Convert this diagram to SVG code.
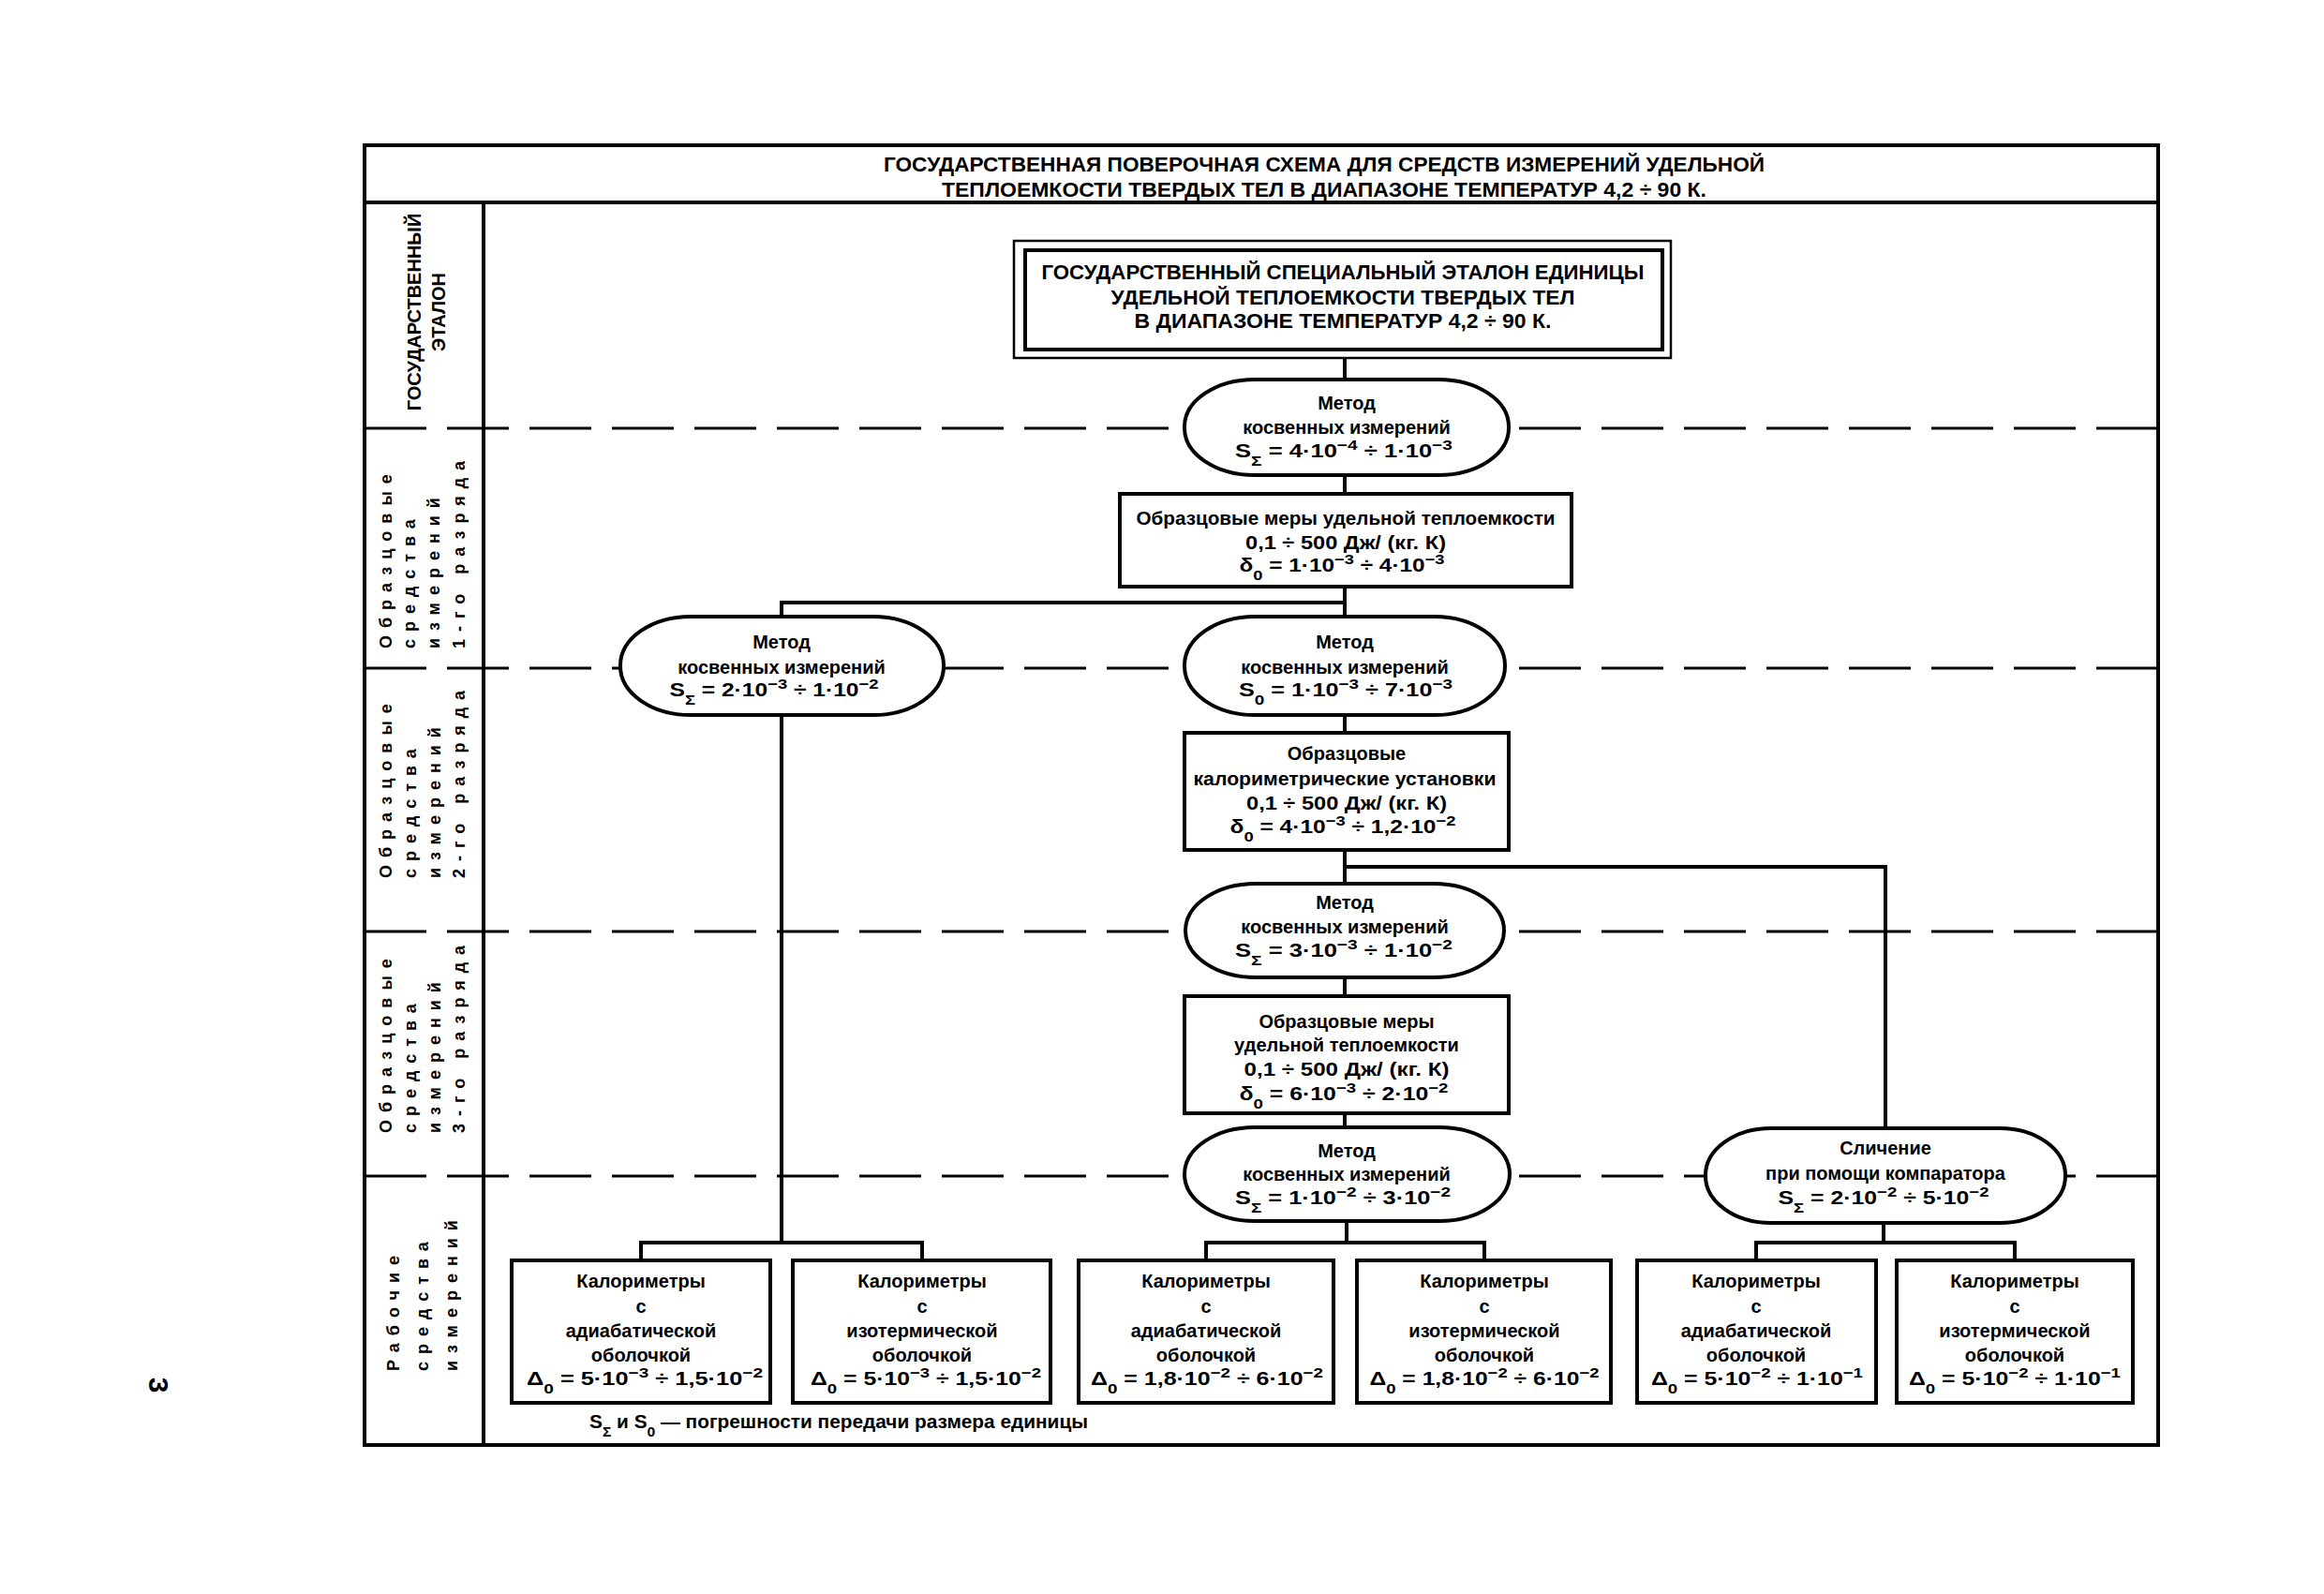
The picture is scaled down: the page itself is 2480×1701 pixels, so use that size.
<svg xmlns="http://www.w3.org/2000/svg" width="2480" height="1701" viewBox="0 0 2480 1701">
<style>
.frame{fill:none;stroke:#000;stroke-width:4}
.dash{stroke:#000;stroke-width:3;stroke-dasharray:66 22;fill:none}
.box{fill:#fff;stroke:#000;stroke-width:4}
.thin{fill:#fff;stroke:#000;stroke-width:2.5}
.conn{fill:none;stroke:#000;stroke-width:4}
.t{font-family:"Liberation Sans",Arial,sans-serif;font-weight:bold;font-size:20px;text-anchor:middle;fill:#000}
.h{font-family:"Liberation Sans",Arial,sans-serif;font-weight:bold;font-size:22px;text-anchor:middle;fill:#000}
.lab{font-family:"Liberation Sans",Arial,sans-serif;font-weight:bold;font-size:18px;letter-spacing:8px;fill:#000}
.labc{font-family:"Liberation Sans",Arial,sans-serif;font-weight:bold;font-size:20px;text-anchor:middle;fill:#000}
.sp{font-size:15px;baseline-shift:super}
.sb{font-size:15px;baseline-shift:sub}
</style>
<rect width="2480" height="1701" fill="#fff"/>

<!-- frame -->
<g id="frame">
<rect class="frame" x="389" y="155" width="1914" height="1387"/>
<line class="frame" x1="389" y1="216" x2="2303" y2="216"/>
<line class="frame" x1="516" y1="216" x2="516" y2="1542"/>
<text class="h" x="1413" y="183" textLength="940" lengthAdjust="spacingAndGlyphs">ГОСУДАРСТВЕННАЯ ПОВЕРОЧНАЯ СХЕМА ДЛЯ СРЕДСТВ ИЗМЕРЕНИЙ УДЕЛЬНОЙ</text>
<text class="h" x="1413" y="210" textLength="816" lengthAdjust="spacingAndGlyphs">ТЕПЛОЕМКОСТИ ТВЕРДЫХ ТЕЛ В ДИАПАЗОНЕ ТЕМПЕРАТУР 4,2 ÷ 90 К.</text>
</g>

<!-- row separators -->
<g id="rows">
<line class="dash" x1="389" y1="457" x2="2303" y2="457"/>
<line class="dash" x1="389" y1="713" x2="2303" y2="713"/>
<line class="dash" x1="389" y1="994" x2="2303" y2="994"/>
<line class="dash" x1="389" y1="1255" x2="2303" y2="1255"/>
</g>

<!-- row labels -->
<g id="row-labels">
<text class="labc" transform="rotate(-90 449 333)" x="449" y="333">ГОСУДАРСТВЕННЫЙ</text>
<text class="labc" transform="rotate(-90 475 333)" x="475" y="333">ЭТАЛОН</text>

<text class="lab" transform="rotate(-90 418 692)" x="418" y="692">Образцовые</text>
<text class="lab" transform="rotate(-90 443 692)" x="443" y="692">средства</text>
<text class="lab" transform="rotate(-90 469 692)" x="469" y="692">измерений</text>
<text class="lab" transform="rotate(-90 496 692)" x="496" y="692">1-го разряда</text>

<text class="lab" transform="rotate(-90 418 937)" x="418" y="937">Образцовые</text>
<text class="lab" transform="rotate(-90 444 937)" x="444" y="937">средства</text>
<text class="lab" transform="rotate(-90 470 937)" x="470" y="937">измерений</text>
<text class="lab" transform="rotate(-90 496 937)" x="496" y="937">2-го разряда</text>

<text class="lab" transform="rotate(-90 418 1209)" x="418" y="1209">Образцовые</text>
<text class="lab" transform="rotate(-90 444 1209)" x="444" y="1209">средства</text>
<text class="lab" transform="rotate(-90 470 1209)" x="470" y="1209">измерений</text>
<text class="lab" transform="rotate(-90 496 1209)" x="496" y="1209">3-го разряда</text>

<text class="lab" transform="rotate(-90 426 1463)" x="426" y="1463">Рабочие</text>
<text class="lab" transform="rotate(-90 457 1463)" x="457" y="1463">средства</text>
<text class="lab" transform="rotate(-90 488 1463)" x="488" y="1463">измерений</text>
</g>

<!-- connectors -->
<g id="connectors">
<line class="conn" x1="1435" y1="382" x2="1435" y2="405"/>
<line class="conn" x1="1435" y1="507" x2="1435" y2="527"/>
<polyline class="conn" points="1435,626 1435,658"/>
<polyline class="conn" points="834,658 834,643 1435,643"/>
<line class="conn" x1="1435" y1="763" x2="1435" y2="782"/>
<line class="conn" x1="1435" y1="907" x2="1435" y2="943"/>
<polyline class="conn" points="1435,925 2012,925 2012,1204"/>
<line class="conn" x1="1435" y1="1043" x2="1435" y2="1063"/>
<line class="conn" x1="1435" y1="1188" x2="1435" y2="1203"/>
<line class="conn" x1="834" y1="763" x2="834" y2="1326"/>
<polyline class="conn" points="684,1345 684,1326 984,1326 984,1345"/>
<line class="conn" x1="1437" y1="1303" x2="1437" y2="1326"/>
<polyline class="conn" points="1287,1345 1287,1326 1584,1326 1584,1345"/>
<line class="conn" x1="2010" y1="1305" x2="2010" y2="1326"/>
<polyline class="conn" points="1874,1345 1874,1326 2150,1326 2150,1345"/>
</g>

<!-- nodes -->
<g id="node-etalon">
<rect class="thin" x="1082" y="257" width="701" height="125"/>
<rect class="box" x="1094" y="267" width="680" height="106"/>
<text class="h" x="1433" y="298" textLength="643" lengthAdjust="spacingAndGlyphs">ГОСУДАРСТВЕННЫЙ СПЕЦИАЛЬНЫЙ ЭТАЛОН ЕДИНИЦЫ</text>
<text class="h" x="1433" y="325" textLength="495" lengthAdjust="spacingAndGlyphs">УДЕЛЬНОЙ ТЕПЛОЕМКОСТИ ТВЕРДЫХ ТЕЛ</text>
<text class="h" x="1433" y="350" textLength="445" lengthAdjust="spacingAndGlyphs">В ДИАПАЗОНЕ ТЕМПЕРАТУР 4,2 ÷ 90 К.</text>
</g>

<g id="node-method-1">
<rect class="box" x="1264" y="405" width="346" height="102" rx="75" ry="50"/>
<text class="t" x="1437" y="437">Метод</text>
<text class="t" x="1437" y="463">косвенных измерений</text>
<text class="t" x="1434" y="488" textLength="232" lengthAdjust="spacingAndGlyphs">S<tspan class="sb">Σ</tspan> = 4·10<tspan class="sp">−4</tspan> ÷ 1·10<tspan class="sp">−3</tspan></text>
</g>

<g id="node-measures-1">
<rect class="box" x="1195" y="527" width="482" height="99"/>
<text class="t" x="1436" y="560" textLength="447" lengthAdjust="spacingAndGlyphs">Образцовые меры удельной теплоемкости</text>
<text class="t" x="1436" y="586" textLength="214" lengthAdjust="spacingAndGlyphs">0,1 ÷ 500 Дж/ (кг. К)</text>
<text class="t" x="1432" y="610" textLength="219" lengthAdjust="spacingAndGlyphs">δ<tspan class="sb">0</tspan> = 1·10<tspan class="sp">−3</tspan> ÷ 4·10<tspan class="sp">−3</tspan></text>
</g>

<g id="node-method-left">
<rect class="box" x="662" y="658" width="345" height="105" rx="75" ry="52"/>
<text class="t" x="834" y="692">Метод</text>
<text class="t" x="834" y="719">косвенных измерений</text>
<text class="t" x="826" y="743" textLength="223" lengthAdjust="spacingAndGlyphs">S<tspan class="sb">Σ</tspan> = 2·10<tspan class="sp">−3</tspan> ÷ 1·10<tspan class="sp">−2</tspan></text>
</g>

<g id="node-method-2">
<rect class="box" x="1264" y="658" width="342" height="105" rx="75" ry="52"/>
<text class="t" x="1435" y="692">Метод</text>
<text class="t" x="1435" y="719">косвенных измерений</text>
<text class="t" x="1436" y="743" textLength="228" lengthAdjust="spacingAndGlyphs">S<tspan class="sb">0</tspan> = 1·10<tspan class="sp">−3</tspan> ÷ 7·10<tspan class="sp">−3</tspan></text>
</g>

<g id="node-calorimetric">
<rect class="box" x="1264" y="782" width="346" height="125"/>
<text class="t" x="1437" y="811">Образцовые</text>
<text class="t" x="1435" y="838" textLength="323" lengthAdjust="spacingAndGlyphs">калориметрические установки</text>
<text class="t" x="1437" y="864" textLength="214" lengthAdjust="spacingAndGlyphs">0,1 ÷ 500 Дж/ (кг. К)</text>
<text class="t" x="1433" y="889" textLength="241" lengthAdjust="spacingAndGlyphs">δ<tspan class="sb">0</tspan> = 4·10<tspan class="sp">−3</tspan> ÷ 1,2·10<tspan class="sp">−2</tspan></text>
</g>

<g id="node-method-3">
<rect class="box" x="1265" y="943" width="340" height="100" rx="75" ry="50"/>
<text class="t" x="1435" y="970">Метод</text>
<text class="t" x="1435" y="996">косвенных измерений</text>
<text class="t" x="1434" y="1021" textLength="232" lengthAdjust="spacingAndGlyphs">S<tspan class="sb">Σ</tspan> = 3·10<tspan class="sp">−3</tspan> ÷ 1·10<tspan class="sp">−2</tspan></text>
</g>

<g id="node-measures-3">
<rect class="box" x="1264" y="1063" width="346" height="125"/>
<text class="t" x="1437" y="1097">Образцовые меры</text>
<text class="t" x="1437" y="1122">удельной теплоемкости</text>
<text class="t" x="1437" y="1148" textLength="219" lengthAdjust="spacingAndGlyphs">0,1 ÷ 500 Дж/ (кг. К)</text>
<text class="t" x="1434" y="1174" textLength="223" lengthAdjust="spacingAndGlyphs">δ<tspan class="sb">0</tspan> = 6·10<tspan class="sp">−3</tspan> ÷ 2·10<tspan class="sp">−2</tspan></text>
</g>

<g id="node-method-4">
<rect class="box" x="1264" y="1203" width="347" height="100" rx="75" ry="50"/>
<text class="t" x="1437" y="1235">Метод</text>
<text class="t" x="1437" y="1260">косвенных измерений</text>
<text class="t" x="1433" y="1285" textLength="230" lengthAdjust="spacingAndGlyphs">S<tspan class="sb">Σ</tspan> = 1·10<tspan class="sp">−2</tspan> ÷ 3·10<tspan class="sp">−2</tspan></text>
</g>

<g id="node-comparison">
<rect class="box" x="1820" y="1204" width="384" height="101" rx="70" ry="50"/>
<text class="t" x="2012" y="1232">Сличение</text>
<text class="t" x="2012" y="1259">при помощи компаратора</text>
<text class="t" x="2010" y="1285" textLength="225" lengthAdjust="spacingAndGlyphs">S<tspan class="sb">Σ</tspan> = 2·10<tspan class="sp">−2</tspan> ÷ 5·10<tspan class="sp">−2</tspan></text>
</g>

<g id="node-cal-1">
<rect class="box" x="546" y="1345" width="276" height="152"/>
<text class="t" x="684" y="1374">Калориметры</text>
<text class="t" x="684" y="1401">с</text>
<text class="t" x="684" y="1427">адиабатической</text>
<text class="t" x="684" y="1453">оболочкой</text>
<text class="t" x="688" y="1478" textLength="252" lengthAdjust="spacingAndGlyphs">Δ<tspan class="sb">0</tspan> = 5·10<tspan class="sp">−3</tspan> ÷ 1,5·10<tspan class="sp">−2</tspan></text>
</g>

<g id="node-cal-2">
<rect class="box" x="846" y="1345" width="275" height="152"/>
<text class="t" x="984" y="1374">Калориметры</text>
<text class="t" x="984" y="1401">с</text>
<text class="t" x="984" y="1427">изотермической</text>
<text class="t" x="984" y="1453">оболочкой</text>
<text class="t" x="988" y="1478" textLength="246" lengthAdjust="spacingAndGlyphs">Δ<tspan class="sb">0</tspan> = 5·10<tspan class="sp">−3</tspan> ÷ 1,5·10<tspan class="sp">−2</tspan></text>
</g>

<g id="node-cal-3">
<rect class="box" x="1151" y="1345" width="272" height="152"/>
<text class="t" x="1287" y="1374">Калориметры</text>
<text class="t" x="1287" y="1401">с</text>
<text class="t" x="1287" y="1427">адиабатической</text>
<text class="t" x="1287" y="1453">оболочкой</text>
<text class="t" x="1288" y="1478" textLength="248" lengthAdjust="spacingAndGlyphs">Δ<tspan class="sb">0</tspan> = 1,8·10<tspan class="sp">−2</tspan> ÷ 6·10<tspan class="sp">−2</tspan></text>
</g>

<g id="node-cal-4">
<rect class="box" x="1448" y="1345" width="271" height="152"/>
<text class="t" x="1584" y="1374">Калориметры</text>
<text class="t" x="1584" y="1401">с</text>
<text class="t" x="1584" y="1427">изотермической</text>
<text class="t" x="1584" y="1453">оболочкой</text>
<text class="t" x="1584" y="1478" textLength="245" lengthAdjust="spacingAndGlyphs">Δ<tspan class="sb">0</tspan> = 1,8·10<tspan class="sp">−2</tspan> ÷ 6·10<tspan class="sp">−2</tspan></text>
</g>

<g id="node-cal-5">
<rect class="box" x="1747" y="1345" width="255" height="152"/>
<text class="t" x="1874" y="1374">Калориметры</text>
<text class="t" x="1874" y="1401">с</text>
<text class="t" x="1874" y="1427">адиабатической</text>
<text class="t" x="1874" y="1453">оболочкой</text>
<text class="t" x="1875" y="1478" textLength="226" lengthAdjust="spacingAndGlyphs">Δ<tspan class="sb">0</tspan> = 5·10<tspan class="sp">−2</tspan> ÷ 1·10<tspan class="sp">−1</tspan></text>
</g>

<g id="node-cal-6">
<rect class="box" x="2024" y="1345" width="252" height="152"/>
<text class="t" x="2150" y="1374">Калориметры</text>
<text class="t" x="2150" y="1401">с</text>
<text class="t" x="2150" y="1427">изотермической</text>
<text class="t" x="2150" y="1453">оболочкой</text>
<text class="t" x="2150" y="1478" textLength="226" lengthAdjust="spacingAndGlyphs">Δ<tspan class="sb">0</tspan> = 5·10<tspan class="sp">−2</tspan> ÷ 1·10<tspan class="sp">−1</tspan></text>
</g>

<g id="footnote">
<text class="t" x="629" y="1524" style="text-anchor:start" textLength="532" lengthAdjust="spacingAndGlyphs">S<tspan class="sb">Σ</tspan> и S<tspan class="sb">0</tspan> — погрешности передачи размера единицы</text>
</g>

<g id="page-number">
<text class="t" x="169" y="1478" style="font-size:30px;dominant-baseline:central" transform="rotate(90 169 1478)">3</text>
</g>
</svg>
